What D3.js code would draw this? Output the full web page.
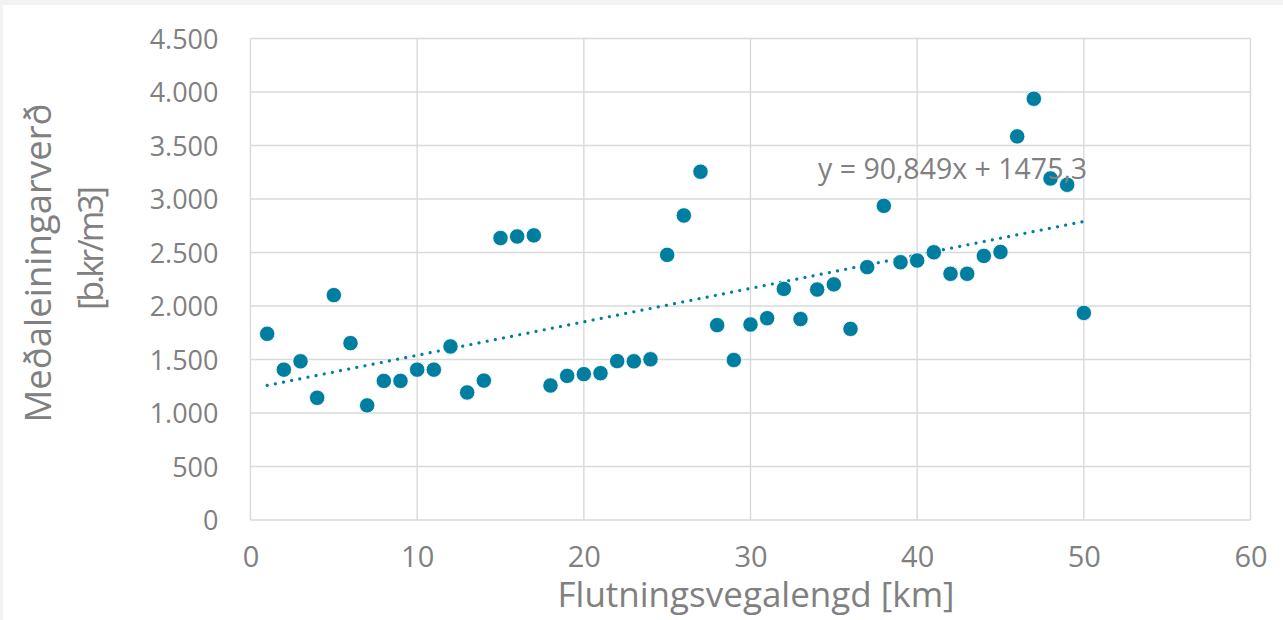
<!DOCTYPE html>
<html>
<head>
<meta charset="utf-8">
<script src="https://cdn.jsdelivr.net/npm/d3@7"></script>
<style>
  html, body { margin: 0; padding: 0; background: #f2f2f2; }
  svg { display: block; }
  text { font-family: "Open Sans", "Noto Sans", sans-serif; fill: #808080; }
</style>
</head>
<body>
<svg id="chart" width="1283" height="620"></svg>
<script>
// ---- data ----
const distanceKm = [1,2,3,4,5,6,7,8,9,10,11,12,13,14,15,16,17,18,19,20,21,22,23,24,25,
                    26,27,28,29,30,31,32,33,34,35,36,37,38,39,40,41,42,43,44,45,46,47,48,49,50];
const avgUnitPrice = [1740,1405,1483,1142,2102,1653,1071,1300,1300,1405,1405,1622,1192,1303,2635,
                      2650,2660,1257,1347,1363,1372,1485,1483,1502,2478,2846,3255,1821,1495,1827,
                      1886,2160,1878,2154,2202,1786,2363,2936,2409,2425,2502,2301,2301,2468,2505,
                      3585,3937,3192,3133,1935];
const xTicks = [0,10,20,30,40,50,60];
const yTicks = [0,500,1000,1500,2000,2500,3000,3500,4000,4500];
const trendX = [1, 50];
const trendY = [1258, 2790];
const equationLabel = "y = 90,849x + 1475,3";
const xTitle = "Flutningsvegalengd [km]";
const yTitleLines = ["Meðaleiningarverð", "[b.kr/m3]"];

// ---- layout ----
const svg = d3.select("#chart");
const W = 1283, H = 620;
const plot = { left: 250.5, right: 1250.5, top: 38.5, bottom: 520 };
const color = "#007EA0";

svg.append("rect").attr("x", 3).attr("y", 5).attr("width", W - 3).attr("height", H - 5).attr("fill", "#ffffff");

const x = d3.scaleLinear().domain([0, 60]).range([plot.left, plot.right]);
const y = d3.scaleLinear().domain([0, 4500]).range([plot.bottom, plot.top]);
const fmt = v => d3.format(",")(v).replace(/,/g, ".");

// gridlines
const grid = svg.append("g");
grid.selectAll("line.h").data(yTicks).join("line")
  .attr("x1", plot.left).attr("x2", plot.right)
  .attr("y1", d => y(d)).attr("y2", d => y(d))
  .attr("stroke", "#d9d9d9").attr("stroke-width", 1.4);
grid.selectAll("line.v").data(xTicks).join("line")
  .attr("y1", plot.top).attr("y2", plot.bottom)
  .attr("x1", d => x(d)).attr("x2", d => x(d))
  .attr("stroke", "#d9d9d9").attr("stroke-width", 1.4);

// axes (labels via d3 axes)
const yAxis = svg.append("g").attr("transform", `translate(${plot.left},0)`)
  .call(d3.axisLeft(y).tickValues(yTicks).tickFormat(fmt).tickSize(0).tickPadding(32));
yAxis.select(".domain").remove();
yAxis.selectAll("text").attr("font-size", 27).attr("fill", "#808080")
  .style("font-family", '"Open Sans", sans-serif').attr("dy", "0.36em");

const xAxis = svg.append("g").attr("transform", `translate(0,${plot.bottom})`)
  .call(d3.axisBottom(x).tickValues(xTicks).tickFormat(d3.format("d")).tickSize(0).tickPadding(26));
xAxis.select(".domain").remove();
xAxis.selectAll("text").attr("font-size", 29).attr("fill", "#808080")
  .style("font-family", '"Open Sans", sans-serif').attr("dy", "0.71em");

// trendline
svg.append("line")
  .attr("x1", x(trendX[0])).attr("y1", y(trendY[0]))
  .attr("x2", x(trendX[1])).attr("y2", y(trendY[1]))
  .attr("stroke", color).attr("stroke-width", 3.2)
  .attr("stroke-linecap", "round").attr("stroke-dasharray", "0.01 8.3");

// points
svg.append("g").selectAll("circle").data(distanceKm).join("circle")
  .attr("cx", d => x(d))
  .attr("cy", (d, i) => y(avgUnitPrice[i]))
  .attr("r", 7.7)
  .attr("fill", color)
  .attr("stroke", "#ffffff").attr("stroke-width", 0.8);

// equation label
svg.append("text").attr("x", 818).attr("y", 178.5)
  .attr("font-size", 28.5).text(equationLabel);

// axis titles
svg.append("text").attr("x", 756).attr("y", 607)
  .attr("text-anchor", "middle").attr("font-size", 35).text(xTitle);

svg.append("text").attr("transform", "translate(51,263) rotate(-90)")
  .attr("text-anchor", "middle").attr("font-size", 36.5).text(yTitleLines[0]);
svg.append("text").attr("transform", "translate(103,248) rotate(-90)")
  .attr("text-anchor", "middle").attr("font-size", 34)
  .attr("textLength", 124).attr("lengthAdjust", "spacing").text(yTitleLines[1]);
</script>
</body>
</html>
